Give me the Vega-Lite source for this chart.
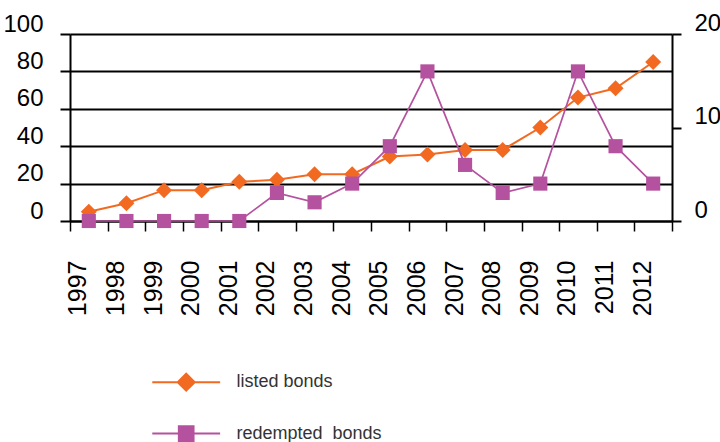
{
  "$schema": "https://vega.github.io/schema/vega-lite/v6.json",
  "width": 602,
  "height": 187,
  "autosize": {"type": "none"},
  "padding": {"left": 70, "top": 34, "right": 48, "bottom": 221},
  "background": "white",
  "config": {"view": {"stroke": null}, "font": "Liberation Sans"},
  "data": {
    "values": [
      {"year": "1997", "listed": 5, "redempted": 0},
      {"year": "1998", "listed": 9.5, "redempted": 0},
      {"year": "1999", "listed": 16.5, "redempted": 0},
      {"year": "2000", "listed": 16.5, "redempted": 0},
      {"year": "2001", "listed": 21, "redempted": 0},
      {"year": "2002", "listed": 22, "redempted": 3},
      {"year": "2003", "listed": 25, "redempted": 2},
      {"year": "2004", "listed": 25, "redempted": 4},
      {"year": "2005", "listed": 34.5, "redempted": 8},
      {"year": "2006", "listed": 35.5, "redempted": 16},
      {"year": "2007", "listed": 38, "redempted": 6},
      {"year": "2008", "listed": 38, "redempted": 3},
      {"year": "2009", "listed": 50, "redempted": 4},
      {"year": "2010", "listed": 66, "redempted": 16},
      {"year": "2011", "listed": 71, "redempted": 8},
      {"year": "2012", "listed": 85, "redempted": 4}
    ]
  },
  "encoding": {
    "x": {
      "field": "year",
      "type": "ordinal",
      "bandPosition": 0.5,
      "scale": {"type": "band", "paddingInner": 0, "paddingOuter": 0},
      "axis": {
        "title": null,
        "labelAngle": -90,
        "tickBand": "extent",
        "domainColor": "black",
        "domainWidth": 2,
        "tickColor": "black",
        "tickWidth": 1.5,
        "tickSize": 10,
        "labelFont": "Liberation Sans",
        "labelFontSize": 25,
        "labelColor": "black",
        "labelPadding": 29,
        "labelOffset": -11,
        "labelOverlap": false,
        "labelBound": false,
        "labelFlush": false,
        "grid": false
      }
    }
  },
  "layer": [
    {
      "mark": {
        "type": "line",
        "strokeWidth": 2,
        "point": {"shape": "diamond", "size": 256, "filled": true, "opacity": 1}
      },
      "encoding": {
        "y": {
          "field": "listed",
          "type": "quantitative",
          "scale": {"domain": [0, 100], "nice": false, "zero": true},
          "axis": {
            "orient": "left",
            "title": null,
            "values": [0, 20, 40, 60, 80, 100],
            "grid": true,
            "gridColor": "black",
            "gridWidth": 2,
            "gridOpacity": 1,
            "domainColor": "black",
            "domainWidth": 2,
            "tickColor": "black",
            "tickWidth": 2,
            "tickSize": 10,
            "labelFont": "Liberation Sans",
            "labelFontSize": 24,
            "labelColor": "black",
            "labelPadding": 17,
            "labelOffset": -10,
            "labelOverlap": false,
            "labelBound": false,
            "labelFlush": false
          }
        },
        "color": {
          "datum": "listed bonds",
          "type": "nominal",
          "scale": {"domain": ["listed bonds", "redempted  bonds"], "range": ["#F26A21", "#B5529F"]},
          "legend": {
            "orient": "none",
            "legendX": 103.7,
            "legendY": 335.7,
            "title": null,
            "direction": "vertical",
            "symbolSize": 512,
            "labelOffset": 37.7,
            "rowPadding": 26.4,
            "padding": 0,
            "labelFont": "Liberation Sans",
            "labelFontSize": 18,
            "labelColor": "#333333",
            "symbolStrokeWidth": 2,
            "labelExpr": "datum.value === 'listed bonds' ? 'listed bonds' : 'redempted\u00a0 bonds'",
            "encode": {
              "symbols": {
                "update": {
                  "shape": {"signal": "datum.value === 'listed bonds' ? 'M-3,0H3M0,-0.75L0.75,0L0,0.75L-0.75,0Z' : 'M-3,0H3M-0.65,-0.65H0.65V0.65H-0.65Z'"},
                  "fill": {"signal": "datum.value === 'listed bonds' ? '#F26A21' : '#B5529F'"},
                  "stroke": {"signal": "datum.value === 'listed bonds' ? '#F26A21' : '#B5529F'"},
                  "opacity": {"value": 1},
                  "fillOpacity": {"value": 1}
                }
              }
            }
          }
        }
      }
    },
    {
      "mark": {
        "type": "line",
        "strokeWidth": 1.7,
        "point": {"shape": "square", "size": 200, "filled": true, "opacity": 1}
      },
      "encoding": {
        "y": {
          "field": "redempted",
          "type": "quantitative",
          "scale": {"domain": [0, 20], "nice": false, "zero": true},
          "axis": {
            "orient": "right",
            "title": null,
            "values": [0, 10, 20],
            "grid": false,
            "domainColor": "black",
            "domainWidth": 2,
            "tickColor": "black",
            "tickWidth": 2,
            "tickSize": 9,
            "labelFont": "Liberation Sans",
            "labelFontSize": 24,
            "labelColor": "black",
            "labelPadding": 13,
            "labelOffset": -11,
            "labelOverlap": false,
            "labelBound": false,
            "labelFlush": false
          }
        },
        "color": {"datum": "redempted  bonds", "type": "nominal"}
      }
    }
  ],
  "resolve": {"scale": {"y": "independent"}}
}
